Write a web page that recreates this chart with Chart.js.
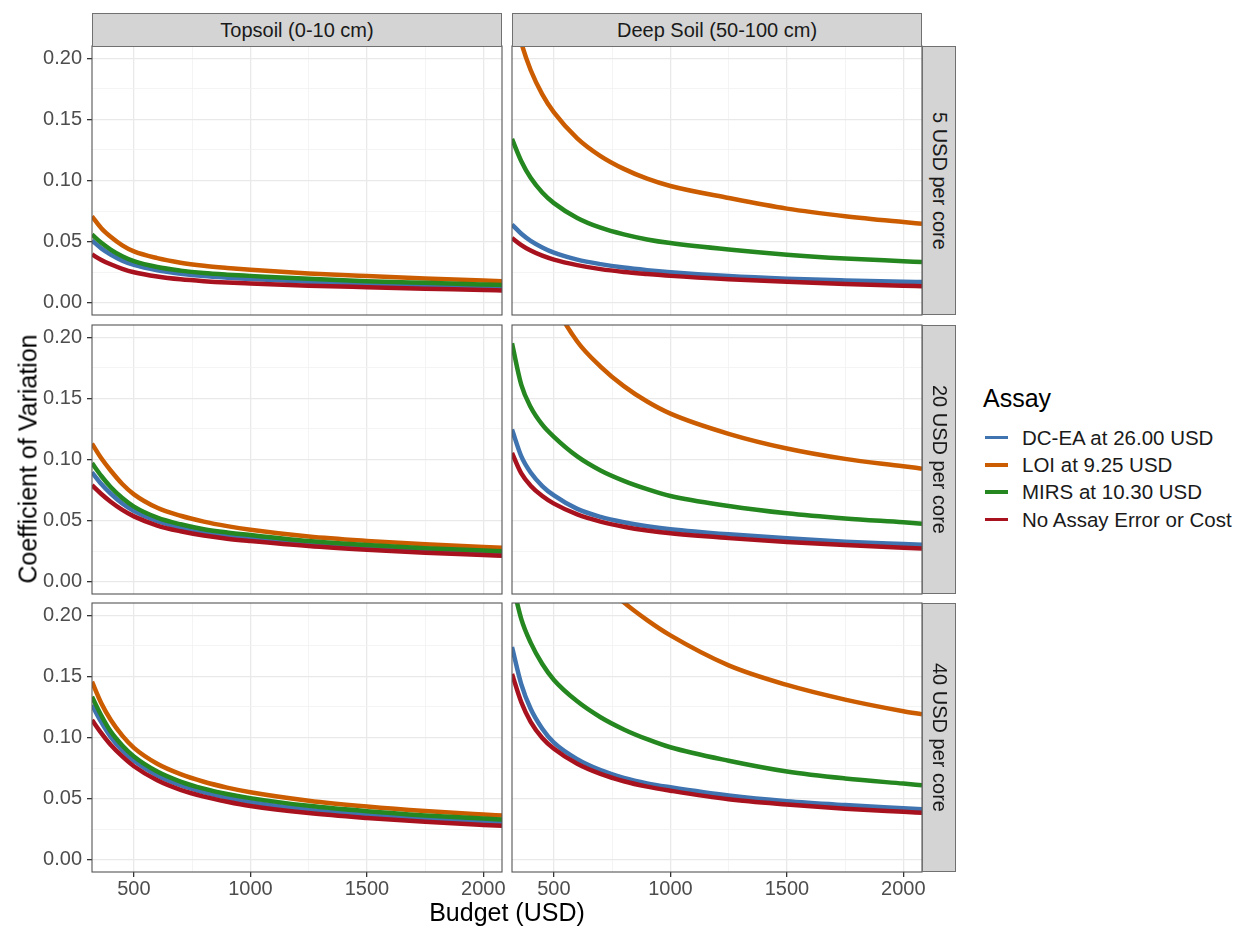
<!DOCTYPE html>
<html>
<head>
<meta charset="utf-8">
<script src="https://cdn.jsdelivr.net/npm/chart.js@4.4.0/dist/chart.umd.min.js"></script>
<style>
  body { margin: 0; width: 1243px; height: 928px; background: #fff; position: relative; overflow: hidden;
         font-family: "Liberation Sans", Arial, sans-serif; }
  .box { position: absolute; }
  .strip { position: absolute; box-sizing: border-box; background: #d4d4d4; border: 1px solid #707070;
           color: #1a1a1a; font-size: 20px; display: flex; align-items: center; justify-content: center; z-index: 2; }
  .strip.side span { writing-mode: vertical-rl; }
  .title { position: absolute; color: #000; font-size: 25px; white-space: nowrap; }
  #legend { position: absolute; left: 983px; top: 384px; }
  #legend .head { font-size: 25px; color: #000; margin-bottom: 11px; }
  #legend .item { height: 27.3px; display: flex; align-items: center; font-size: 20.5px; color: #1a1a1a; }
  #legend .key { width: 23px; height: 3.5px; margin: 0 14px 0 2px; }
</style>
</head>
<body>

<script>
const budget = [320, 360, 400, 450, 500, 600, 700, 800, 900, 1000, 1250, 1500, 1750, 2000, 2080];

const xMajor = [500, 1000, 1500, 2000];
const xMinor = [750, 1250, 1750];
const yMajor = [0, 0.05, 0.10, 0.15, 0.20];
const yMinor = [0.025, 0.075, 0.125, 0.175];

const assays = ['DC-EA at 26.00 USD', 'LOI at 9.25 USD', 'MIRS at 10.30 USD', 'No Assay Error or Cost'];
const depths = ['Topsoil (0-10 cm)', 'Deep Soil (50-100 cm)'];
const coreCosts = ['5 USD per core', '20 USD per core', '40 USD per core'];

// Topsoil, 5 USD per core
const top5Dcea = [0.051, 0.0445, 0.0395, 0.0345, 0.031, 0.0266, 0.0238, 0.0218, 0.0205, 0.0195, 0.0172, 0.0156, 0.0143, 0.0132, 0.0128];
const top5Loi  = [0.0707, 0.061, 0.054, 0.047, 0.042, 0.0365, 0.0328, 0.0303, 0.0285, 0.027, 0.024, 0.0218, 0.0199, 0.0182, 0.0177];
const top5Mirs = [0.0558, 0.049, 0.0435, 0.038, 0.034, 0.0292, 0.0263, 0.0243, 0.023, 0.022, 0.0196, 0.0177, 0.0163, 0.015, 0.0146];
const top5None = [0.0395, 0.035, 0.0315, 0.0278, 0.025, 0.0215, 0.0192, 0.0177, 0.0166, 0.0158, 0.014, 0.0127, 0.0115, 0.0105, 0.0101];

// Deep soil, 5 USD per core
const deep5Dcea = [0.064, 0.0565, 0.0507, 0.0453, 0.041, 0.0353, 0.0316, 0.0288, 0.0267, 0.025, 0.0218, 0.0197, 0.0183, 0.0172, 0.0169];
const deep5Loi  = [0.245, 0.2127, 0.1904, 0.1705, 0.1557, 0.1345, 0.12, 0.1095, 0.1015, 0.0955, 0.0857, 0.077, 0.0708, 0.066, 0.0646];
const deep5Mirs = [0.134, 0.1158, 0.1022, 0.0902, 0.0815, 0.0694, 0.0614, 0.0559, 0.0518, 0.0488, 0.0435, 0.0393, 0.0362, 0.034, 0.0333];
const deep5None = [0.053, 0.0472, 0.0427, 0.0385, 0.0353, 0.0308, 0.0275, 0.0252, 0.0235, 0.022, 0.0192, 0.0171, 0.0154, 0.014, 0.0136];

// Topsoil, 20 USD per core
const top20Dcea = [0.0895, 0.08, 0.0722, 0.064, 0.0578, 0.0495, 0.0443, 0.0405, 0.0377, 0.0356, 0.0314, 0.0283, 0.026, 0.0242, 0.0237];
const top20Loi  = [0.113, 0.101, 0.091, 0.08, 0.0715, 0.0605, 0.054, 0.0492, 0.0455, 0.0425, 0.037, 0.0334, 0.0306, 0.0284, 0.0278];
const top20Mirs = [0.097, 0.0865, 0.0775, 0.0685, 0.0615, 0.0525, 0.047, 0.043, 0.0403, 0.0382, 0.0334, 0.03, 0.0275, 0.0256, 0.025];
const top20None = [0.079, 0.0718, 0.0655, 0.0588, 0.0535, 0.046, 0.0413, 0.0378, 0.0352, 0.0333, 0.0292, 0.0262, 0.0238, 0.0219, 0.0213];

// Deep soil, 20 USD per core
const deep20Dcea = [0.1245, 0.1025, 0.0893, 0.0783, 0.0706, 0.0596, 0.0531, 0.0487, 0.0454, 0.043, 0.0388, 0.0355, 0.0328, 0.0308, 0.0302];
const deep20Loi  = [0.377, 0.321, 0.284, 0.252, 0.2285, 0.1965, 0.176, 0.16, 0.1474, 0.1375, 0.121, 0.109, 0.1005, 0.0945, 0.0925];
const deep20Mirs = [0.195, 0.161, 0.143, 0.1285, 0.1185, 0.1025, 0.091, 0.0825, 0.0757, 0.0701, 0.062, 0.056, 0.0518, 0.0486, 0.0475];
const deep20None = [0.1054, 0.0886, 0.0786, 0.0701, 0.0639, 0.0551, 0.0492, 0.045, 0.0419, 0.0396, 0.0357, 0.0325, 0.03, 0.0279, 0.0273];

// Topsoil, 40 USD per core
const top40Dcea = [0.1265, 0.1125, 0.1005, 0.0895, 0.081, 0.069, 0.061, 0.0552, 0.0507, 0.0472, 0.041, 0.0368, 0.0335, 0.031, 0.0303];
const top40Loi  = [0.1456, 0.128, 0.1145, 0.1015, 0.0915, 0.0785, 0.07, 0.0638, 0.059, 0.0552, 0.0483, 0.0435, 0.0398, 0.037, 0.0362];
const top40Mirs = [0.1333, 0.118, 0.105, 0.0935, 0.0845, 0.0722, 0.064, 0.0582, 0.0538, 0.0504, 0.0441, 0.0397, 0.0363, 0.0337, 0.033];
const top40None = [0.1143, 0.1035, 0.094, 0.0845, 0.0765, 0.065, 0.0572, 0.0517, 0.0475, 0.044, 0.0382, 0.0342, 0.031, 0.0285, 0.0278];

// Deep soil, 40 USD per core
const deep40Dcea = [0.174, 0.1435, 0.1235, 0.1072, 0.0958, 0.0823, 0.0733, 0.067, 0.0625, 0.0593, 0.0525, 0.0478, 0.0447, 0.0422, 0.0414];
const deep40Loi  = [0.385, 0.355, 0.33, 0.305, 0.285, 0.252, 0.229, 0.2105, 0.196, 0.1835, 0.159, 0.143, 0.131, 0.1215, 0.119];
const deep40Mirs = [0.228, 0.1968, 0.1776, 0.1601, 0.1471, 0.1296, 0.1166, 0.1066, 0.0986, 0.092, 0.081, 0.0722, 0.0665, 0.0623, 0.061];
const deep40None = [0.152, 0.1288, 0.1128, 0.0996, 0.0908, 0.0785, 0.0702, 0.0642, 0.0598, 0.0565, 0.0495, 0.0452, 0.0418, 0.0392, 0.0384];

const panelSeries = [
  [[top5Dcea, top5Loi, top5Mirs, top5None], [deep5Dcea, deep5Loi, deep5Mirs, deep5None]],
  [[top20Dcea, top20Loi, top20Mirs, top20None], [deep20Dcea, deep20Loi, deep20Mirs, deep20None]],
  [[top40Dcea, top40Loi, top40Mirs, top40None], [deep40Dcea, deep40Loi, deep40Mirs, deep40None]]
];

const assayColors = ['#3f74b0', '#cc5c00', '#25871f', '#a8121e'];

// layout of the facet grid
const colLeft = [92, 512];
const rowTop = [46, 325, 603];
const panelW = 410, panelH = 269;
const fontFamily = '"Liberation Sans", Arial, sans-serif';

const panelBorder = {
  id: 'panelBorder',
  afterDraw(chart) {
    const a = chart.chartArea, ctx = chart.ctx;
    ctx.save();
    ctx.strokeStyle = '#555';
    ctx.lineWidth = 1.1;
    ctx.strokeRect(a.left, a.top, a.right - a.left, a.bottom - a.top);
    ctx.restore();
  }
};

function makePanel(r, c) {
  const isLeft = c === 0, isBottom = r === 2;
  const axisW = isLeft ? 92 : 0, axisH = isBottom ? 40 : 0;
  // generous padding so tick labels never push the plot area in
  const padL = isLeft ? 0 : 10, padT = 20, padR = 30, padB = 20;

  const box = document.createElement('div');
  box.className = 'box';
  box.style.left = (colLeft[c] - axisW - padL) + 'px';
  box.style.top = (rowTop[r] - padT) + 'px';
  box.style.width = (padL + axisW + panelW + padR) + 'px';
  box.style.height = (padT + panelH + axisH + padB) + 'px';
  const canvas = document.createElement('canvas');
  box.appendChild(canvas);
  document.body.appendChild(box);

  const datasets = panelSeries[r][c].map((vals, i) => ({
    label: assays[i],
    data: budget.map((b, j) => ({ x: b, y: vals[j] })),
    borderColor: assayColors[i],
    borderWidth: 4.5,
    pointRadius: 0,
    cubicInterpolationMode: 'monotone',
    clip: 0,
    order: 3 - i
  }));

  new Chart(canvas, {
    type: 'line',
    data: { datasets },
    options: {
      responsive: true,
      maintainAspectRatio: false,
      animation: false,
      layout: { padding: { left: padL, right: padR, top: padT, bottom: padB } },
      plugins: { legend: { display: false }, tooltip: { enabled: false } },
      scales: {
        x: {
          type: 'linear', min: 320, max: 2080,
          afterBuildTicks: s => { s.ticks = xMajor.concat(xMinor).sort((a, b) => a - b).map(v => ({ value: v })); },
          afterFit: s => { s.height = axisH; },
          border: { display: false },
          grid: {
            color: ctx => xMajor.includes(ctx.tick.value) ? '#e9e9e9' : '#f1f1f1',
            lineWidth: ctx => xMajor.includes(ctx.tick.value) ? 1.3 : 0.8,
            drawTicks: isBottom,
            tickLength: 5,
            tickColor: ctx => xMajor.includes(ctx.tick.value) ? '#333' : 'rgba(0,0,0,0)'
          },
          ticks: {
            display: isBottom, autoSkip: false, maxRotation: 0, padding: 0,
            color: '#4d4d4d', font: { family: fontFamily, size: 20 },
            callback: v => xMajor.includes(v) ? String(v) : ''
          }
        },
        y: {
          type: 'linear', min: -0.01, max: 0.21,
          afterBuildTicks: s => { s.ticks = yMajor.concat(yMinor).sort((a, b) => a - b).map(v => ({ value: v })); },
          afterFit: s => { s.width = axisW; },
          border: { display: false },
          grid: {
            color: ctx => yMajor.includes(ctx.tick.value) ? '#e9e9e9' : '#f1f1f1',
            lineWidth: ctx => yMajor.includes(ctx.tick.value) ? 1.3 : 0.8,
            drawTicks: isLeft,
            tickLength: 5,
            tickColor: ctx => yMajor.includes(ctx.tick.value) ? '#333' : 'rgba(0,0,0,0)'
          },
          ticks: {
            display: isLeft, autoSkip: false, padding: 5,
            color: '#4d4d4d', font: { family: fontFamily, size: 20 },
            callback: v => yMajor.includes(v) ? v.toFixed(2) : ''
          }
        }
      }
    },
    plugins: [panelBorder]
  });
}

for (let r = 0; r < 3; r++) {
  for (let c = 0; c < 2; c++) makePanel(r, c);
}

// facet strips
depths.forEach((d, c) => {
  const s = document.createElement('div');
  s.className = 'strip';
  s.style.left = colLeft[c] + 'px';
  s.style.top = '13px';
  s.style.width = panelW + 'px';
  s.style.height = '34px';
  s.textContent = d;
  document.body.appendChild(s);
});
coreCosts.forEach((t, r) => {
  const s = document.createElement('div');
  s.className = 'strip side';
  s.style.left = (colLeft[1] + panelW) + 'px';
  s.style.top = rowTop[r] + 'px';
  s.style.width = '34px';
  s.style.height = panelH + 'px';
  s.innerHTML = '<span>' + t + '</span>';
  document.body.appendChild(s);
});

// axis titles
const xTitle = document.createElement('div');
xTitle.className = 'title';
xTitle.textContent = 'Budget (USD)';
xTitle.style.left = '507px';
xTitle.style.top = '898px';
xTitle.style.transform = 'translateX(-50%)';
document.body.appendChild(xTitle);

const yTitle = document.createElement('div');
yTitle.className = 'title';
yTitle.textContent = 'Coefficient of Variation';
yTitle.style.left = '28px';
yTitle.style.top = '459px';
yTitle.style.transform = 'translate(-50%, -50%) rotate(-90deg)';
document.body.appendChild(yTitle);

// legend
const legend = document.createElement('div');
legend.id = 'legend';
legend.innerHTML = '<div class="head">Assay</div>' + assays.map((a, i) =>
  '<div class="item"><div class="key" style="background:' + assayColors[i] + '"></div>' + a + '</div>').join('');
document.body.appendChild(legend);
</script>
</body>
</html>
